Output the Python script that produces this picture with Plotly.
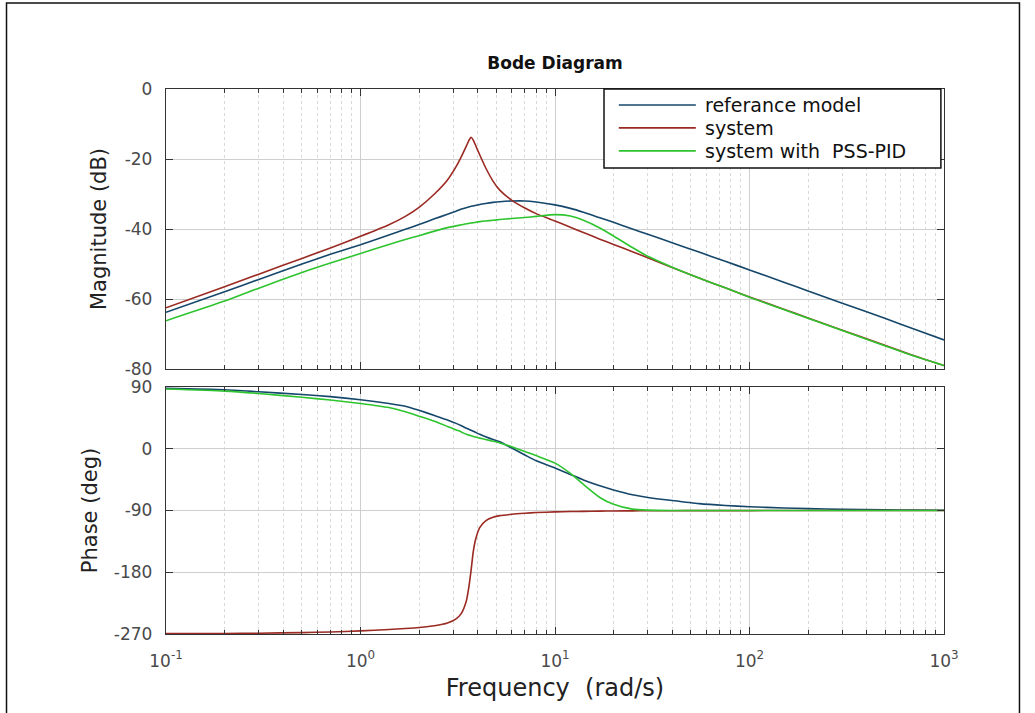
import plotly.graph_objects as go
from plotly.subplots import make_subplots

# ---------------- data ----------------
freq = [0.1, 0.2, 0.3, 0.5, 0.7, 1, 1.4, 1.7, 2, 2.4, 2.8, 3.1, 3.3, 3.5, 3.6, 3.7,
        3.8, 3.9, 4.1, 4.4, 4.8, 5.2, 6, 7, 8, 10, 12, 14, 17, 20, 25, 30, 40, 55,
        75, 100, 150, 200, 300, 500, 700, 1000]

mag_ref = [-63.8, -57.9, -54.4, -50.0, -47.2, -44.5, -41.7, -40.1, -38.7, -37.1, -35.8,
           -34.9, -34.3, -33.9, -33.7, -33.5, -33.4, -33.3, -33.0, -32.7, -32.4, -32.2,
           -32.0, -32.0, -32.3, -33.1, -34.1, -35.2, -36.8, -38.1, -40.0, -41.5, -43.9,
           -46.6, -49.2, -51.7, -55.2, -57.7, -61.2, -65.6, -68.6, -71.7]

mag_sys = [-62.5, -56.5, -52.9, -48.4, -45.4, -42.1, -38.8, -36.4, -33.8, -30.0, -26.0,
           -22.2, -19.3, -16.3, -14.8, -13.8, -14.6, -16.0, -18.8, -22.5, -26.3, -28.9,
           -31.8, -34.0, -35.6, -37.7, -39.5, -41.0, -42.9, -44.4, -46.5, -48.2, -51.0,
           -54.0, -56.8, -59.4, -62.9, -65.4, -68.9, -73.3, -76.2, -79.0]

mag_pid = [-66.2, -60.6, -56.9, -52.4, -49.7, -47.0, -44.4, -43.0, -41.9, -40.6, -39.6,
           -39.1, -38.8, -38.5, -38.4, -38.3, -38.2, -38.1, -37.9, -37.7, -37.5, -37.3,
           -37.0, -36.7, -36.4, -35.9, -36.3, -37.5, -39.7, -42.0, -45.3, -47.8, -50.9,
           -54.0, -56.8, -59.5, -63.0, -65.5, -69.0, -73.4, -76.3, -79.0]

ph_ref = [88, 86, 83, 79, 76, 71.5, 66, 62, 56, 48.5, 42, 37, 33.5, 30, 28.5, 27,
          25.5, 24, 21, 17.5, 13.5, 10.3, 1, -9, -17.5, -28, -37.5, -45.5, -54, -60,
          -67, -71, -75.5, -80, -82.7, -84.5, -86.3, -87.2, -88.3, -89.1, -89.4, -89.6]

ph_sys = [-269.5, -269.2, -268.8, -268, -267, -265.5, -263.5, -262, -260.5, -258, -254,
          -248, -240, -222, -203, -178, -150, -133, -115, -105, -100, -97.5, -95.5,
          -94, -93, -92, -91.5, -91.2, -90.9, -90.7, -90.5, -90.4, -90.3, -90.2,
          -90.1, -90.1, -90, -90, -90, -90, -90, -90]

ph_pid = [87, 84, 80.5, 75, 71, 66, 60, 54, 47.5, 40, 32.5, 27.5, 24.5, 21, 20, 19,
          18, 17, 15.5, 13.5, 11, 8.5, 3, -4, -10, -21, -36, -52, -71, -81, -88,
          -89.5, -90, -90, -90, -90, -90, -90, -90, -90, -90, -90]

series_names = ["referance model", "system", "system with \u00a0PSS-PID"]
series_colors = ["#15476b", "#9a2a22", "#2ec42e"]

x_tickvals = [0.1, 1, 10, 100, 1000]
x_ticktext = ["10<sup>-1</sup>", "10<sup>0</sup>", "10<sup>1</sup>", "10<sup>2</sup>", "10<sup>3</sup>"]
mag_ticks = [-80, -60, -40, -20, 0]
mag_ticktext = ["-80", "-60", "-40", "-20", "0"]
ph_ticks = [-270, -180, -90, 0, 90]
ph_ticktext = ["-270", "-180", "-90", "0", "90"]

# ---------------- figure ----------------
FONT = "DejaVu Sans"
fig = make_subplots(rows=2, cols=1, shared_xaxes=True, vertical_spacing=0.033,
                    row_heights=[0.5138, 0.4532])

mags = [mag_ref, mag_sys, mag_pid]
phs = [ph_ref, ph_sys, ph_pid]
for name, col, m, p in zip(series_names, series_colors, mags, phs):
    fig.add_trace(go.Scatter(x=freq, y=m, mode="lines", name=name,
                             line=dict(color=col, width=1.6, shape="spline", smoothing=0.6),
                             showlegend=False),
                  row=1, col=1)
    fig.add_trace(go.Scatter(x=freq, y=p, mode="lines", name=name,
                             line=dict(color=col, width=1.6, shape="spline", smoothing=0.6),
                             showlegend=False),
                  row=2, col=1)

minor_vals = [m * 10 ** e for e in range(-1, 3) for m in range(2, 10)]

common_x = dict(type="log", range=[-1, 3], tickmode="array", tickvals=x_tickvals,
                ticktext=x_ticktext, ticks="inside", ticklen=7, tickcolor="#333",
                showline=True, linecolor="#333", linewidth=1.3, mirror="ticks",
                showgrid=True, gridcolor="#cfcfcf", gridwidth=1,
                minor=dict(tickmode="array", tickvals=minor_vals, ticks="inside",
                           ticklen=4, tickcolor="#333", showgrid=True,
                           gridcolor="#d9d9d9", griddash="dot", gridwidth=1),
                tickfont=dict(family=FONT, size=17, color="#4a4a4a"),
                zeroline=False)
fig.update_xaxes(**common_x)
fig.update_xaxes(showticklabels=False, row=1, col=1)
fig.update_xaxes(title=dict(text="Frequency \u00a0(rad/s)", font=dict(family=FONT, size=24, color="#222"),
                            standoff=9), ticklabelstandoff=11, row=2, col=1)

common_y = dict(ticks="inside", ticklen=7, tickcolor="#333", showline=True,
                linecolor="#333", linewidth=1.3, mirror="ticks", showgrid=True,
                gridcolor="#cfcfcf", gridwidth=1, zeroline=False,
                tickfont=dict(family=FONT, size=17, color="#4a4a4a"),
                ticklabelstandoff=9)
fig.update_yaxes(**common_y)
fig.update_yaxes(range=[-80, 0], tickmode="array", tickvals=mag_ticks, ticktext=mag_ticktext,
                 title=dict(text="Magnitude (dB)", font=dict(family=FONT, size=21, color="#222"),
                            standoff=12), row=1, col=1)
fig.update_yaxes(range=[-270, 90], tickmode="array", tickvals=ph_ticks, ticktext=ph_ticktext,
                 title=dict(text="Phase (deg)", font=dict(family=FONT, size=21, color="#222"),
                            standoff=10), row=2, col=1)

# ---------------- legend (boxed key inside the top axes) ----------------
shapes = [dict(type="rect", xref="x domain", yref="y domain", x0=0.563, x1=0.996,
               y0=0.718, y1=1.0, line=dict(color="#111", width=1.5), fillcolor="white",
               layer="above")]
annotations = []
row_y = [0.943, 0.861, 0.779]
for name, col, yy in zip(series_names, series_colors, row_y):
    shapes.append(dict(type="line", xref="x domain", yref="y domain", x0=0.582, x1=0.681,
                       y0=yy, y1=yy, line=dict(color=col, width=1.6), layer="above"))
    annotations.append(dict(xref="x domain", yref="y domain", x=0.6905, y=yy, text=name,
                            showarrow=False, xanchor="left", yanchor="middle",
                            font=dict(family=FONT, size=19, color="#111")))

# outer frame
shapes.append(dict(type="rect", xref="paper", yref="paper", x0=-0.205, x1=1.097,
                   y0=-0.2, y1=1.1578, line=dict(color="#111", width=1.5), layer="below"))

fig.update_layout(
    width=1035, height=713,
    margin=dict(l=166, r=91, t=89, b=79),
    paper_bgcolor="white", plot_bgcolor="white",
    title=dict(text="<b>Bode Diagram</b>", x=0.5, xref="paper", y=1 - 63 / 713,
               yref="container", xanchor="center", yanchor="middle",
               font=dict(family=FONT, size=17, color="#111")),
    shapes=shapes, annotations=annotations,
    showlegend=False,
)

fig.write_html("out.html")
